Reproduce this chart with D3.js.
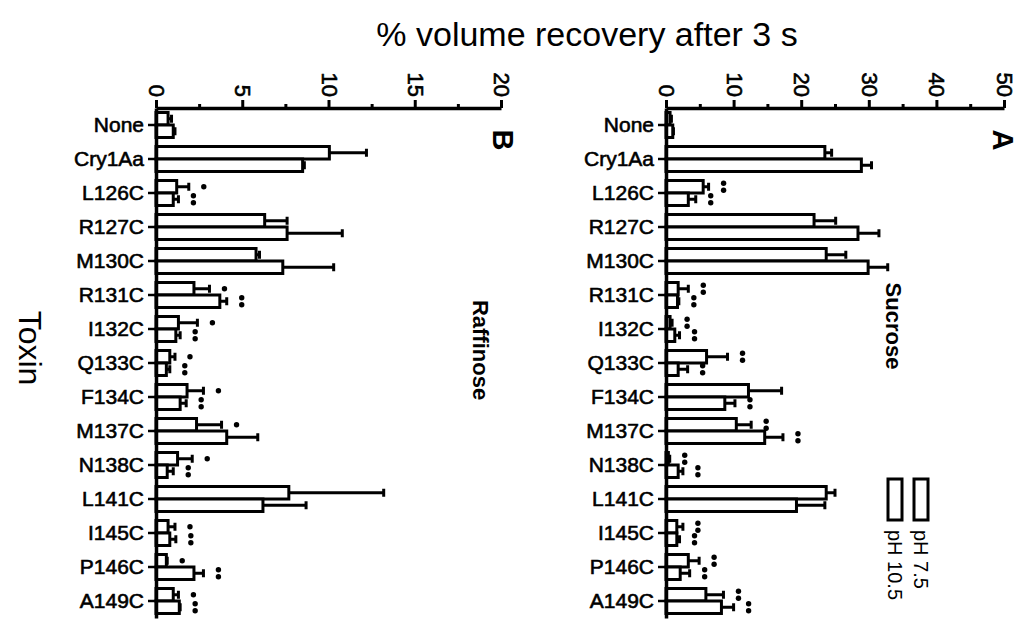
<!DOCTYPE html>
<html>
<head>
<meta charset="utf-8">
<script src="https://cdn.jsdelivr.net/npm/d3@7"></script>
<style>
  body { margin: 0; background: #fff; }
  svg { display: block; font-family: "Liberation Sans", Arial, sans-serif; }
</style>
</head>
<body>
<svg id="chart" width="1031" height="624"></svg>
<script>
// categories (top to bottom)
const toxins = ['None', 'Cry1Aa', 'L126C', 'R127C', 'M130C', 'R131C', 'I132C', 'Q133C',
  'F134C', 'M137C', 'N138C', 'L141C', 'I145C', 'P146C', 'A149C'];
const series = ['pH 7.5', 'pH 10.5'];

// panel A - sucrose
const sucrose75 = [0.6, 23.5, 5.5, 21.9, 23.7, 1.8, 0.6, 6.0, 12.2, 10.4, 0.35, 23.7, 1.6, 3.3, 5.9];
const sucrose75Err = [0.2, 1.0, 0.8, 3.2, 2.9, 1.5, 0.3, 3.1, 4.9, 2.2, 0.2, 1.3, 0.9, 1.6, 2.6];
const sucrose105 = [1.0, 28.9, 3.3, 28.4, 29.9, 1.7, 1.3, 1.8, 8.7, 14.6, 1.8, 19.3, 1.6, 2.1, 8.2];
const sucrose105Err = [0.1, 1.5, 1.1, 3.1, 2.9, 0.2, 0.7, 1.4, 1.5, 2.7, 0.7, 4.2, 0.4, 1.4, 1.8];
const sucrose75Sig = [0, 0, 2, 0, 0, 2, 2, 2, 0, 2, 2, 0, 2, 2, 2];
const sucrose105Sig = [0, 0, 2, 0, 0, 2, 2, 2, 2, 2, 2, 0, 2, 2, 2];

// panel B - raffinose
const raffinose75 = [0.7, 10.05, 1.2, 6.3, 5.8, 2.2, 1.3, 0.8, 1.8, 2.35, 1.25, 7.7, 0.7, 0.6, 1.0];
const raffinose75Err = [0.2, 2.15, 0.7, 1.3, 0.2, 0.9, 1.1, 0.3, 0.95, 1.45, 0.85, 5.5, 0.4, 0.05, 0.3];
const raffinose105 = [1.0, 8.5, 1.0, 7.6, 7.35, 3.7, 1.15, 0.6, 1.4, 4.1, 0.65, 6.2, 0.8, 2.2, 1.35];
const raffinose105Err = [0.1, 0.1, 0.3, 3.2, 2.95, 0.4, 0.25, 0.2, 0.35, 1.8, 0.35, 2.5, 0.35, 0.55, 0.05];
const raffinose75Sig = [0, 0, 1, 0, 0, 1, 1, 1, 1, 1, 1, 0, 1, 1, 1];
const raffinose105Sig = [0, 0, 2, 0, 0, 2, 2, 2, 2, 0, 2, 0, 2, 2, 2];

const ticksA = [0, 10, 20, 30, 40, 50];
const minorA = [5, 15, 25, 35, 45];
const ticksB = [0, 5, 10, 15, 20];
const minorB = [2.5, 7.5, 12.5, 17.5];

let svg = d3.select('#chart');

let y = d3.scaleBand()
  .domain(toxins)
  .range([108, 618])
  .paddingInner(0.265)
  .paddingOuter(0.1325);

let ySub = d3.scaleBand()
  .domain(series)
  .range([0, y.bandwidth()]);

function drawPanel(p) {
  let x = d3.scaleLinear().domain(p.domain).range(p.range);
  let g = svg.append('g');
  let axisY = y.range()[0];

  let rows = toxins.map((t, i) => ([
    {toxin: t, s: series[0], v: p.v75[i], e: p.e75[i], sig: p.sig75[i]},
    {toxin: t, s: series[1], v: p.v105[i], e: p.e105[i], sig: p.sig105[i]}
  ])).flat();

  let barY = d => y(d.toxin) + ySub(d.s);
  let midY = d => barY(d) + ySub.bandwidth() / 2;

  // error bars
  g.selectAll('.err')
    .data(rows)
    .join('path')
    .attr('class', 'err')
    .attr('d', d => {
      let x0 = x(d.v), x1 = x(d.v + d.e), m = midY(d);
      return `M${x0},${m}H${x1}M${x1},${m - 4}V${m + 4}`;
    })
    .style('fill', 'none')
    .style('stroke', '#000')
    .style('stroke-width', 3);

  // bars
  g.selectAll('.bar')
    .data(rows)
    .join('rect')
    .attr('class', 'bar')
    .attr('x', x(0))
    .attr('y', d => barY(d))
    .attr('width', d => Math.max(x(d.v) - x(0), 1))
    .attr('height', ySub.bandwidth())
    .style('fill', '#fff')
    .style('stroke', '#000')
    .style('stroke-width', 3);

  // significance marks
  let dots = [];
  rows.forEach(d => {
    let cx = x(d.v + d.e) + 15;
    if (d.sig === 1) dots.push({cx: cx, cy: midY(d)});
    if (d.sig === 2) {
      dots.push({cx: cx, cy: midY(d) - 3.5});
      dots.push({cx: cx, cy: midY(d) + 3.5});
    }
  });
  g.selectAll('.sig')
    .data(dots)
    .join('circle')
    .attr('class', 'sig')
    .attr('cx', d => d.cx)
    .attr('cy', d => d.cy)
    .attr('r', 2.7)
    .style('fill', '#000');

  // value axis (top)
  let minor = g.append('g')
    .attr('transform', `translate(0,${axisY})`)
    .call(d3.axisTop(x).tickValues(p.minor).tickSize(4).tickSizeOuter(0).tickFormat(''));
  minor.select('.domain').remove();
  minor.selectAll('line').style('stroke-width', 3);

  let top = g.append('g')
    .attr('transform', `translate(0,${axisY})`)
    .call(d3.axisTop(x).tickValues(p.ticks).tickSize(8).tickSizeOuter(0));
  top.select('.domain').style('stroke-width', 3.5);
  top.selectAll('line').style('stroke-width', 3);
  top.selectAll('text')
    .attr('y', 0)
    .attr('dy', null)
    .attr('x', -11)
    .attr('transform', 'rotate(90)')
    .attr('dominant-baseline', 'central')
    .style('text-anchor', 'end')
    .style('font-size', '22px')
    .style('fill', '#000')
    .style('stroke', '#000')
    .style('stroke-width', 0.6);

  // category axis (left)
  let left = g.append('g')
    .attr('transform', `translate(${x(0)},0)`)
    .call(d3.axisLeft(y).tickSize(8).tickSizeOuter(0).tickPadding(4));
  left.select('.domain').style('stroke-width', 3.5);
  left.selectAll('line').style('stroke-width', 2.5);
  left.selectAll('text')
    .style('font-size', '21px')
    .style('fill', '#000')
    .style('stroke', '#000')
    .style('stroke-width', 0.6);

  // panel letter and sugar label
  g.append('text')
    .attr('transform', `translate(${p.letterX},140) rotate(90)`)
    .attr('text-anchor', 'middle')
    .attr('dominant-baseline', 'central')
    .style('font-size', '29px')
    .style('font-weight', 'bold')
    .text(p.letter);

  g.append('text')
    .attr('transform', `translate(${p.labelX},${p.labelY}) rotate(90)`)
    .attr('text-anchor', 'middle')
    .attr('dominant-baseline', 'central')
    .style('font-size', '22px')
    .style('font-weight', 'bold')
    .text(p.label);

  return x;
}

drawPanel({
  domain: [0, 20], range: [156, 501], ticks: ticksB, minor: minorB,
  v75: raffinose75, e75: raffinose75Err, v105: raffinose105, e105: raffinose105Err,
  sig75: raffinose75Sig, sig105: raffinose105Sig,
  letter: 'B', letterX: 503, label: 'Raffinose', labelX: 480, labelY: 350
});

drawPanel({
  domain: [0, 50], range: [666, 1004], ticks: ticksA, minor: minorA,
  v75: sucrose75, e75: sucrose75Err, v105: sucrose105, e105: sucrose105Err,
  sig75: sucrose75Sig, sig105: sucrose105Sig,
  letter: 'A', letterX: 1003, label: 'Sucrose', labelX: 893, labelY: 326
});

// legend
let legend = svg.append('g');
let legendX = d3.scaleOrdinal().domain(series).range([921, 895]);
legend.selectAll('rect')
  .data(series)
  .join('rect')
  .attr('x', d => legendX(d) - 7)
  .attr('y', 479)
  .attr('width', 14)
  .attr('height', 41)
  .style('fill', '#fff')
  .style('stroke', '#000')
  .style('stroke-width', 3);
legend.selectAll('text')
  .data(series)
  .join('text')
  .attr('transform', d => `translate(${legendX(d)},530) rotate(90)`)
  .attr('dominant-baseline', 'central')
  .style('font-size', '20px')
  .text(d => d);

// titles
svg.append('text')
  .attr('x', 587)
  .attr('y', 46)
  .attr('text-anchor', 'middle')
  .style('font-size', '34px')
  .text('% volume recovery after 3 s');

svg.append('text')
  .attr('transform', 'translate(30,348) rotate(90)')
  .attr('text-anchor', 'middle')
  .attr('dominant-baseline', 'central')
  .style('font-size', '32px')
  .text('Toxin');
</script>
</body>
</html>
